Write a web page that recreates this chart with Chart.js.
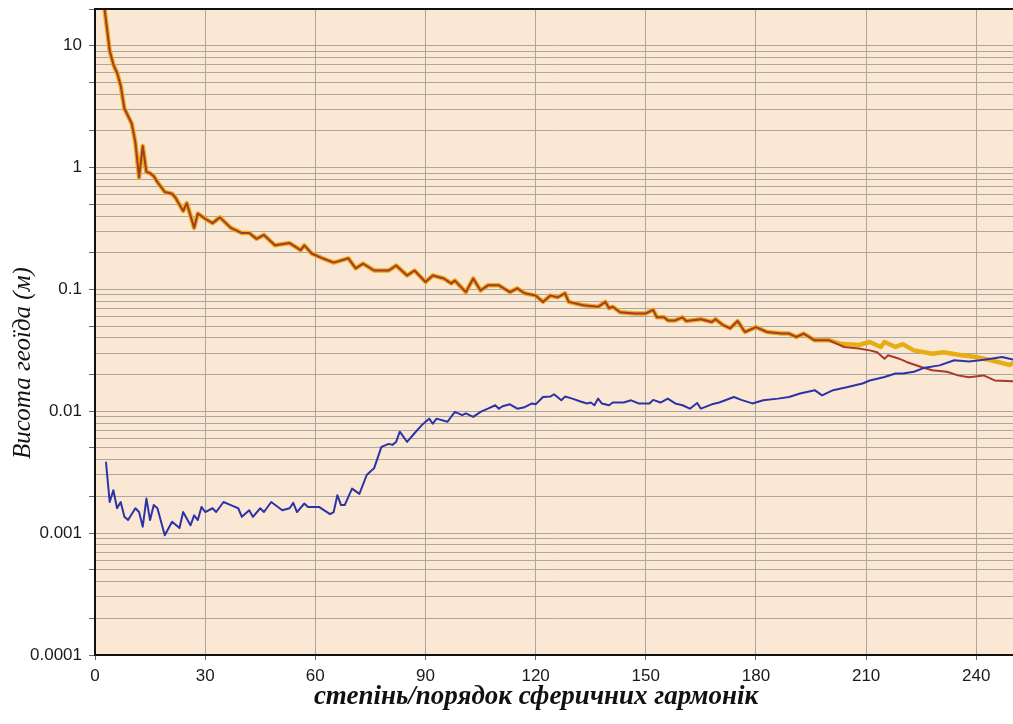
<!DOCTYPE html>
<html>
<head>
<meta charset="utf-8">
<script src="https://cdn.jsdelivr.net/npm/chart.js@4"></script>
<style>
  html, body { margin: 0; background: #fff; }
  #wrap { width: 1013px; height: 724px; }
</style>
</head>
<body>
<div id="wrap"><canvas id="geoid" width="1013" height="724"></canvas></div>
<script>
// spectra of geoid height per degree
const upperDegrees = [2, 3, 4, 5, 6, 7, 8, 10, 11, 12, 13, 14, 15, 16, 17, 19, 21, 22, 24, 25, 27, 28, 30, 32, 34, 37, 40, 42, 44, 46, 49, 53, 56, 57, 59, 62, 65, 69, 71, 73, 76, 80, 82, 85, 87, 90, 92, 95, 97, 98, 101, 103, 105, 107, 110, 113, 115, 117, 120, 122, 124, 126, 128, 129, 133, 137, 139, 140, 141, 143, 147, 150, 152, 153, 155, 156, 158, 160, 161, 165, 168, 169, 171, 173, 175, 177, 180, 183, 187, 189, 191, 193, 196, 200];
const upperValues = [28, 16, 9.1, 7.0, 6.0, 4.7, 3.05, 2.3, 1.6, 0.83, 1.5, 0.92, 0.9, 0.85, 0.76, 0.63, 0.61, 0.56, 0.44, 0.51, 0.32, 0.42, 0.38, 0.35, 0.39, 0.32, 0.29, 0.29, 0.26, 0.28, 0.23, 0.24, 0.21, 0.23, 0.197, 0.18, 0.166, 0.18, 0.149, 0.163, 0.143, 0.143, 0.157, 0.13, 0.143, 0.115, 0.13, 0.123, 0.112, 0.118, 0.095, 0.123, 0.098, 0.108, 0.108, 0.095, 0.102, 0.093, 0.089, 0.079, 0.089, 0.086, 0.093, 0.079, 0.074, 0.072, 0.079, 0.070, 0.072, 0.065, 0.0635, 0.0635, 0.068, 0.059, 0.059, 0.0557, 0.0557, 0.059, 0.055, 0.057, 0.054, 0.057, 0.051, 0.048, 0.055, 0.0447, 0.049, 0.0447, 0.0434, 0.0434, 0.0407, 0.0434, 0.0382, 0.0382];

const yellowTailDegrees = [203, 208, 211, 214, 215, 218, 220, 223, 228, 231, 236, 240, 242, 244, 249, 250];
const yellowTailValues = [0.0359, 0.035, 0.037, 0.0337, 0.037, 0.0337, 0.0355, 0.0316, 0.0297, 0.0305, 0.0288, 0.0279, 0.027, 0.0262, 0.0240, 0.0248];

const redTailDegrees = [204, 208, 211, 213, 215, 216, 219, 221, 225, 228, 232, 235, 238, 242, 245, 250];
const redTailValues = [0.0337, 0.0327, 0.0316, 0.0305, 0.027, 0.0288, 0.027, 0.0254, 0.0231, 0.0217, 0.0211, 0.0197, 0.019, 0.0197, 0.0179, 0.0176];

const blueDegrees = [3, 4, 5, 6, 7, 8, 9, 11, 12, 13, 14, 15, 16, 17, 19, 21, 23, 24, 26, 27, 28, 29, 30, 32, 33, 35, 37, 39, 40, 42, 43, 45, 46, 48, 51, 53, 54, 55, 57, 58, 61, 64, 65, 66, 67, 68, 70, 72, 74, 75, 76, 78, 80, 81, 82, 83, 85, 87, 89, 91, 92, 93, 96, 98, 100, 101, 103, 105, 107, 109, 110, 111, 113, 115, 117, 119, 120, 122, 124, 125, 127, 128, 130, 132, 134, 135, 136, 137, 138, 140, 141, 144, 146, 148, 151, 152, 154, 156, 158, 160, 162, 164, 165, 168, 170, 174, 176, 179, 182, 186, 189, 192, 196, 198, 201, 205, 209, 211, 215, 218, 220, 223, 226, 230, 234, 238, 241, 244, 247, 250];
const blueValues = [0.0038, 0.0018, 0.00225, 0.0016, 0.0018, 0.00136, 0.00128, 0.0016, 0.00149, 0.00113, 0.00192, 0.00128, 0.0017, 0.0016, 0.00096, 0.00124, 0.0011, 0.00149, 0.00116, 0.0014, 0.00128, 0.00164, 0.00149, 0.0016, 0.00149, 0.0018, 0.0017, 0.0016, 0.00136, 0.00154, 0.00136, 0.0016, 0.00149, 0.0018, 0.00154, 0.0016, 0.00177, 0.00149, 0.00175, 0.00164, 0.00164, 0.00143, 0.00149, 0.00205, 0.0017, 0.0017, 0.00232, 0.0021, 0.003, 0.0032, 0.0034, 0.0051, 0.0054, 0.0053, 0.0056, 0.0068, 0.0056, 0.0066, 0.0077, 0.0087, 0.0079, 0.0087, 0.0082, 0.0099, 0.0093, 0.0096, 0.009, 0.0099, 0.0105, 0.0112, 0.0105, 0.011, 0.0114, 0.0105, 0.0108, 0.0116, 0.0114, 0.0131, 0.0132, 0.0138, 0.0123, 0.0132, 0.0127, 0.0121, 0.0116, 0.0118, 0.0112, 0.0127, 0.0116, 0.0112, 0.0118, 0.0118, 0.0123, 0.0116, 0.0116, 0.0124, 0.0118, 0.0127, 0.0116, 0.0112, 0.0105, 0.0117, 0.0105, 0.0114, 0.0118, 0.0131, 0.0124, 0.0116, 0.0123, 0.0127, 0.0131, 0.014, 0.0149, 0.0135, 0.0149, 0.0158, 0.0169, 0.0179, 0.0191, 0.0204, 0.0204, 0.0211, 0.0228, 0.0238, 0.0262, 0.0256, 0.0262, 0.027, 0.0279, 0.0266];

const xTicks = [0, 30, 60, 90, 120, 150, 180, 210, 240];
const decadeValues = [0.0001, 0.001, 0.01, 0.1, 1, 10];
const decadeLabels = ['0.0001', '0.001', '0.01', '0.1', '1', '10'];
const minorSteps = [1, 2, 3, 4, 5, 6, 7, 8, 9];

const xTitle = 'степінь/порядок сферичних гармонік';
const yTitle = 'Висота геоїда (м)';

const plotBg = '#fbe8d4';
const gridColor = '#aca79e';

function toPoints(xs, ys) {
  return xs.map((x, i) => ({ x: x, y: ys[i] }));
}

function significand(v) {
  const e = Math.floor(Math.log10(v) + 1e-9);
  return Math.round(v / Math.pow(10, e));
}

// plot background, top frame line and the axis titles
const frame = {
  id: 'frame',
  beforeDraw(chart) {
    const { ctx, chartArea: a } = chart;
    ctx.save();
    ctx.fillStyle = plotBg;
    ctx.fillRect(a.left, a.top, a.right - a.left, a.bottom - a.top);
    ctx.restore();
  },
  afterDraw(chart) {
    const { ctx, chartArea: a } = chart;
    ctx.save();
    ctx.strokeStyle = '#111';
    ctx.lineWidth = 2;
    ctx.beginPath();
    ctx.moveTo(a.left - 1, a.top);
    ctx.lineTo(a.right, a.top);
    ctx.stroke();

    ctx.fillStyle = '#111';
    ctx.textAlign = 'center';
    ctx.textBaseline = 'middle';
    ctx.font = 'bold italic 27px "Liberation Serif"';
    ctx.fillText(xTitle, 536, 697);
    ctx.translate(23, 363);
    ctx.rotate(-Math.PI / 2);
    ctx.font = 'italic 25px "Liberation Serif"';
    ctx.fillText(yTitle, 0, 0);
    ctx.restore();
  }
};

const chart = new Chart(document.getElementById('geoid'), {
  type: 'line',
  data: {
    datasets: [
      {
        label: 'blue',
        data: toPoints(blueDegrees, blueValues),
        borderColor: '#2d32a8',
        borderWidth: 2
      },
      {
        label: 'red',
        data: toPoints(upperDegrees.concat(redTailDegrees), upperValues.concat(redTailValues)),
        borderColor: '#a8392b',
        borderWidth: 2
      },
      {
        label: 'yellow',
        data: toPoints(upperDegrees.concat(yellowTailDegrees), upperValues.concat(yellowTailValues)),
        borderColor: '#e6ad14',
        borderWidth: 4.5
      }
    ]
  },
  options: {
    responsive: false,
    animation: false,
    clip: 0,
    layout: { padding: { top: 9, right: 0, left: 0, bottom: 0 } },
    elements: {
      point: { radius: 0 },
      line: { tension: 0, borderJoinStyle: 'round', borderCapStyle: 'round' }
    },
    plugins: {
      legend: { display: false },
      tooltip: { enabled: false }
    },
    scales: {
      x: {
        type: 'linear',
        min: 0,
        max: 250,
        afterBuildTicks(scale) {
          scale.ticks = xTicks.map(v => ({ value: v }));
        },
        afterFit(scale) {
          scale.height = 69;
          scale.paddingRight = 0;
        },
        ticks: {
          autoSkip: false,
          maxRotation: 0,
          padding: 6,
          color: '#1a1a1a',
          font: { family: '"Liberation Sans", Arial, sans-serif', size: 17 }
        },
        grid: { color: gridColor, lineWidth: 1, tickLength: 5, tickColor: '#666' },
        border: { color: '#111', width: 2 }
      },
      y: {
        type: 'logarithmic',
        min: 0.0001,
        max: 20,
        afterBuildTicks(scale) {
          const t = [];
          decadeValues.forEach(d => {
            minorSteps.forEach(m => {
              const v = +(d * m).toPrecision(3);
              if (v <= 20) t.push({ value: v });
            });
          });
          scale.ticks = t;
        },
        afterFit(scale) {
          scale.width = 95;
          scale.paddingTop = 0;
          scale.paddingBottom = 0;
        },
        ticks: {
          autoSkip: false,
          padding: 7,
          color: '#1a1a1a',
          font: { family: '"Liberation Sans", Arial, sans-serif', size: 17 },
          callback(value) {
            const i = decadeValues.findIndex(d => Math.abs(d - value) < d * 1e-6);
            return i >= 0 ? decadeLabels[i] : '';
          }
        },
        grid: {
          color: gridColor,
          lineWidth: 1,
          tickLength: 6,
          tickColor(ctx) {
            const s = significand(ctx.tick.value);
            return (s === 1 || s === 2 || s === 5) ? '#666' : 'rgba(0,0,0,0)';
          }
        },
        border: { color: '#111', width: 2 }
      }
    }
  },
  plugins: [frame]
});
</script>
</body>
</html>
